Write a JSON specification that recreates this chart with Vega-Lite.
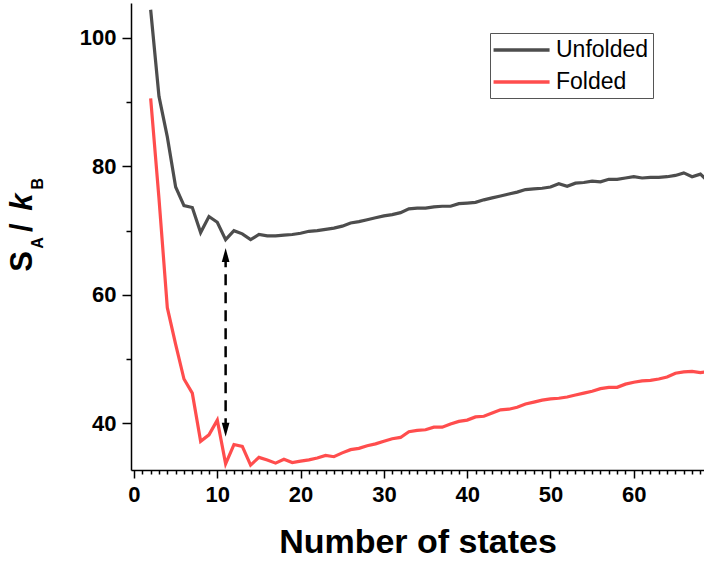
{
  "$schema": "https://vega.github.io/schema/vega-lite/v6.json",
  "width": 573,
  "height": 467,
  "autosize": {"type": "none"},
  "padding": {"left": 131, "top": 3, "right": 0, "bottom": 95},
  "background": "white",
  "config": {
    "view": {"stroke": null},
    "font": "Liberation Sans",
    "axis": {
      "domainColor": "black",
      "domainWidth": 1.5,
      "tickColor": "black",
      "tickWidth": 1.5,
      "grid": false,
      "labelFont": "Liberation Sans",
      "labelFontWeight": "bold",
      "labelFontSize": 22,
      "labelColor": "black",
      "titleFont": "Liberation Sans",
      "titleFontWeight": "bold",
      "titleColor": "black"
    }
  },
  "layer": [
    {
      "data": {"values": [
        {"n":2,"series":"Unfolded","v":104.4},{"n":3,"series":"Unfolded","v":90.9},{"n":4,"series":"Unfolded","v":84.6},{"n":5,"series":"Unfolded","v":76.8},{"n":6,"series":"Unfolded","v":73.9},{"n":7,"series":"Unfolded","v":73.6},{"n":8,"series":"Unfolded","v":69.7},{"n":9,"series":"Unfolded","v":72.2},{"n":10,"series":"Unfolded","v":71.3},{"n":11,"series":"Unfolded","v":68.6},{"n":12,"series":"Unfolded","v":70.0},{"n":13,"series":"Unfolded","v":69.5},{"n":14,"series":"Unfolded","v":68.6},{"n":15,"series":"Unfolded","v":69.4},{"n":16,"series":"Unfolded","v":69.2},{"n":17,"series":"Unfolded","v":69.2},{"n":18,"series":"Unfolded","v":69.3},{"n":19,"series":"Unfolded","v":69.4},{"n":20,"series":"Unfolded","v":69.6},{"n":21,"series":"Unfolded","v":69.9},{"n":22,"series":"Unfolded","v":70.0},{"n":23,"series":"Unfolded","v":70.2},{"n":24,"series":"Unfolded","v":70.4},{"n":25,"series":"Unfolded","v":70.7},{"n":26,"series":"Unfolded","v":71.2},{"n":27,"series":"Unfolded","v":71.4},{"n":28,"series":"Unfolded","v":71.7},{"n":29,"series":"Unfolded","v":72.0},{"n":30,"series":"Unfolded","v":72.3},{"n":31,"series":"Unfolded","v":72.5},{"n":32,"series":"Unfolded","v":72.8},{"n":33,"series":"Unfolded","v":73.4},{"n":34,"series":"Unfolded","v":73.5},{"n":35,"series":"Unfolded","v":73.5},{"n":36,"series":"Unfolded","v":73.7},{"n":37,"series":"Unfolded","v":73.8},{"n":38,"series":"Unfolded","v":73.8},{"n":39,"series":"Unfolded","v":74.2},{"n":40,"series":"Unfolded","v":74.3},{"n":41,"series":"Unfolded","v":74.4},{"n":42,"series":"Unfolded","v":74.8},{"n":43,"series":"Unfolded","v":75.1},{"n":44,"series":"Unfolded","v":75.4},{"n":45,"series":"Unfolded","v":75.7},{"n":46,"series":"Unfolded","v":76.0},{"n":47,"series":"Unfolded","v":76.4},{"n":48,"series":"Unfolded","v":76.5},{"n":49,"series":"Unfolded","v":76.6},{"n":50,"series":"Unfolded","v":76.8},{"n":51,"series":"Unfolded","v":77.3},{"n":52,"series":"Unfolded","v":76.9},{"n":53,"series":"Unfolded","v":77.4},{"n":54,"series":"Unfolded","v":77.5},{"n":55,"series":"Unfolded","v":77.7},{"n":56,"series":"Unfolded","v":77.6},{"n":57,"series":"Unfolded","v":78.0},{"n":58,"series":"Unfolded","v":78.0},{"n":59,"series":"Unfolded","v":78.2},{"n":60,"series":"Unfolded","v":78.4},{"n":61,"series":"Unfolded","v":78.2},{"n":62,"series":"Unfolded","v":78.3},{"n":63,"series":"Unfolded","v":78.3},{"n":64,"series":"Unfolded","v":78.4},{"n":65,"series":"Unfolded","v":78.6},{"n":66,"series":"Unfolded","v":79.0},{"n":67,"series":"Unfolded","v":78.4},{"n":68,"series":"Unfolded","v":78.8},{"n":69,"series":"Unfolded","v":77.6},
        {"n":2,"series":"Folded","v":90.6},{"n":3,"series":"Folded","v":75.0},{"n":4,"series":"Folded","v":58.0},{"n":5,"series":"Folded","v":52.3},{"n":6,"series":"Folded","v":46.9},{"n":7,"series":"Folded","v":44.7},{"n":8,"series":"Folded","v":37.2},{"n":9,"series":"Folded","v":38.2},{"n":10,"series":"Folded","v":40.5},{"n":11,"series":"Folded","v":33.7},{"n":12,"series":"Folded","v":36.7},{"n":13,"series":"Folded","v":36.4},{"n":14,"series":"Folded","v":33.5},{"n":15,"series":"Folded","v":34.7},{"n":16,"series":"Folded","v":34.3},{"n":17,"series":"Folded","v":33.8},{"n":18,"series":"Folded","v":34.4},{"n":19,"series":"Folded","v":33.9},{"n":20,"series":"Folded","v":34.1},{"n":21,"series":"Folded","v":34.3},{"n":22,"series":"Folded","v":34.6},{"n":23,"series":"Folded","v":35.0},{"n":24,"series":"Folded","v":34.8},{"n":25,"series":"Folded","v":35.4},{"n":26,"series":"Folded","v":35.9},{"n":27,"series":"Folded","v":36.1},{"n":28,"series":"Folded","v":36.5},{"n":29,"series":"Folded","v":36.8},{"n":30,"series":"Folded","v":37.2},{"n":31,"series":"Folded","v":37.6},{"n":32,"series":"Folded","v":37.8},{"n":33,"series":"Folded","v":38.7},{"n":34,"series":"Folded","v":38.9},{"n":35,"series":"Folded","v":39.0},{"n":36,"series":"Folded","v":39.4},{"n":37,"series":"Folded","v":39.4},{"n":38,"series":"Folded","v":39.9},{"n":39,"series":"Folded","v":40.3},{"n":40,"series":"Folded","v":40.5},{"n":41,"series":"Folded","v":41.0},{"n":42,"series":"Folded","v":41.1},{"n":43,"series":"Folded","v":41.6},{"n":44,"series":"Folded","v":42.1},{"n":45,"series":"Folded","v":42.2},{"n":46,"series":"Folded","v":42.5},{"n":47,"series":"Folded","v":43.0},{"n":48,"series":"Folded","v":43.3},{"n":49,"series":"Folded","v":43.6},{"n":50,"series":"Folded","v":43.8},{"n":51,"series":"Folded","v":43.9},{"n":52,"series":"Folded","v":44.1},{"n":53,"series":"Folded","v":44.4},{"n":54,"series":"Folded","v":44.7},{"n":55,"series":"Folded","v":45.0},{"n":56,"series":"Folded","v":45.4},{"n":57,"series":"Folded","v":45.6},{"n":58,"series":"Folded","v":45.6},{"n":59,"series":"Folded","v":46.1},{"n":60,"series":"Folded","v":46.4},{"n":61,"series":"Folded","v":46.6},{"n":62,"series":"Folded","v":46.7},{"n":63,"series":"Folded","v":46.9},{"n":64,"series":"Folded","v":47.2},{"n":65,"series":"Folded","v":47.8},{"n":66,"series":"Folded","v":48.0},{"n":67,"series":"Folded","v":48.1},{"n":68,"series":"Folded","v":47.9},{"n":69,"series":"Folded","v":48.1}
      ]},
      "mark": {"type": "line", "strokeWidth": 3.2, "clip": true},
      "encoding": {
        "x": {
          "field": "n", "type": "quantitative",
          "scale": {"domain": [-0.36, 68.43], "nice": false, "zero": false},
          "axis": {
            "title": "Number of states",
            "titleFontSize": 34,
            "titlePadding": 20,
            "format": "d",
            "values": [0,1,2,3,4,5,6,7,8,9,10,11,12,13,14,15,16,17,18,19,20,21,22,23,24,25,26,27,28,29,30,31,32,33,34,35,36,37,38,39,40,41,42,43,44,45,46,47,48,49,50,51,52,53,54,55,56,57,58,59,60,61,62,63,64,65,66,67,68],
            "tickCount": 200,
            "labelExpr": "datum.value % 10 === 0 ? datum.label : ''",
            "tickSize": {"condition": {"test": "datum.value % 10 === 0", "value": 8}, "value": 4},
            "labelPadding": 6,
            "labelFlush": false,
            "labelOverlap": false
          }
        },
        "y": {
          "field": "v", "type": "quantitative",
          "scale": {"domain": [32.73, 105.45], "nice": false, "zero": false},
          "axis": {
            "title": null,
            "format": "d",
            "values": [40, 50, 60, 70, 80, 90, 100],
            "tickCount": 50,
            "labelExpr": "datum.value % 20 === 0 ? datum.label : ''",
            "tickSize": {"condition": {"test": "datum.value % 20 === 0", "value": 9}, "value": 5},
            "labelPadding": 6,
            "labelOverlap": false
          }
        },
        "color": {
          "field": "series", "type": "nominal",
          "scale": {"domain": ["Unfolded", "Folded"], "range": ["#4d4d4d", "#ff4d4d"]},
          "legend": {
            "title": null,
            "orient": "none",
            "legendX": 359,
            "legendY": 30,
            "symbolType": "M-1.2,0L3.8,0",
            "symbolSize": 502,
            "symbolStrokeWidth": 3.5,
            "labelFont": "Liberation Sans",
            "labelFontSize": 23,
            "labelColor": "black",
            "labelOffset": 36,
            "strokeColor": "#555555",
            "fillColor": "white",
            "padding": 4,
            "rowPadding": 7
          }
        },
        "sort": {"field": "n"}
      }
    },
    {
      "data": {"values": [{}]},
      "mark": {"type": "rule", "strokeWidth": 2.5, "strokeDash": [11, 7], "color": "black"},
      "encoding": {
        "x": {"datum": 11},
        "y": {"datum": 66.0},
        "y2": {"datum": 39.6}
      }
    },
    {
      "data": {"values": [{}]},
      "mark": {"type": "point", "shape": "M0,-1L0.55,1L-0.55,1Z", "size": 196, "filled": true, "color": "black", "opacity": 1},
      "encoding": {
        "x": {"datum": 11},
        "y": {"datum": 66.2}
      }
    },
    {
      "data": {"values": [{}]},
      "mark": {"type": "point", "shape": "M0,1L0.55,-1L-0.55,-1Z", "size": 196, "filled": true, "color": "black", "opacity": 1},
      "encoding": {
        "x": {"datum": 11},
        "y": {"datum": 39.0}
      }
    },
    {
      "data": {"values": [{}]},
      "mark": {"type": "text", "text": "S", "angle": 270, "align": "left", "baseline": "alphabetic", "fontSize": 31, "fontWeight": "bold", "font": "Liberation Sans", "color": "black"},
      "encoding": {"x": {"datum": -12.24}, "y": {"datum": 63.6}}
    },
    {
      "data": {"values": [{}]},
      "mark": {"type": "text", "text": "A", "angle": 270, "align": "left", "baseline": "alphabetic", "fontSize": 16, "fontWeight": "bold", "font": "Liberation Sans", "color": "black"},
      "encoding": {"x": {"datum": -10.92}, "y": {"datum": 67.2}}
    },
    {
      "data": {"values": [{}]},
      "mark": {"type": "text", "text": "/", "angle": 270, "align": "left", "baseline": "alphabetic", "fontSize": 31, "fontWeight": "bold", "font": "Liberation Sans", "color": "black"},
      "encoding": {"x": {"datum": -12.24}, "y": {"datum": 69.8}}
    },
    {
      "data": {"values": [{}]},
      "mark": {"type": "text", "text": "k", "angle": 270, "align": "left", "baseline": "alphabetic", "fontSize": 31, "fontWeight": "bold", "fontStyle": "italic", "font": "Liberation Sans", "color": "black"},
      "encoding": {"x": {"datum": -12.24}, "y": {"datum": 73.1}}
    },
    {
      "data": {"values": [{}]},
      "mark": {"type": "text", "text": "B", "angle": 270, "align": "left", "baseline": "alphabetic", "fontSize": 16, "fontWeight": "bold", "font": "Liberation Sans", "color": "black"},
      "encoding": {"x": {"datum": -10.92}, "y": {"datum": 76.4}}
    }
  ]
}
